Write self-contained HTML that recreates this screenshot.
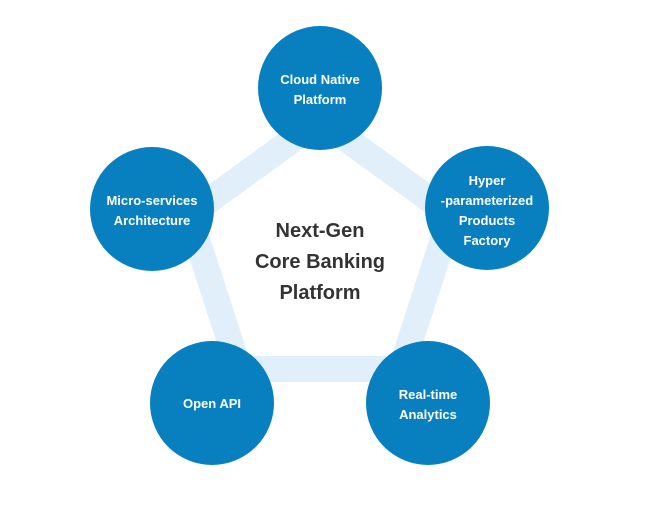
<!DOCTYPE html>
<html><head><style>
body{margin:0;background:#fff;width:646px;height:511px;overflow:hidden}
svg{display:block}
text{font-family:"Liberation Sans",sans-serif;font-weight:bold}
</style></head><body>
<svg width="646" height="511">
<polygon points="320,120 451,215 401,369 239,369 189,215" fill="none" stroke="#e1effa" stroke-width="26" stroke-linejoin="miter"/>
<g fill="#0880bf">
<circle cx="320" cy="88" r="62"/>
<circle cx="152" cy="209" r="62"/>
<circle cx="487" cy="208" r="62"/>
<circle cx="212" cy="403" r="62"/>
<circle cx="428" cy="403" r="62"/>
</g>
<g fill="#fff" font-size="13" text-anchor="middle">
<text x="320" y="84">Cloud Native</text>
<text x="320" y="104">Platform</text>
<text x="152" y="205">Micro-services</text>
<text x="152" y="225">Architecture</text>
<text x="487" y="185">Hyper</text>
<text x="487" y="205">-parameterized</text>
<text x="487" y="225">Products</text>
<text x="487" y="245">Factory</text>
<text x="212" y="408">Open API</text>
<text x="428" y="399">Real-time</text>
<text x="428" y="419">Analytics</text>
</g>
<g fill="#333" font-size="20" text-anchor="middle">
<text x="320" y="237">Next-Gen</text>
<text x="320" y="268">Core Banking</text>
<text x="320" y="299">Platform</text>
</g>
</svg>
</body></html>
